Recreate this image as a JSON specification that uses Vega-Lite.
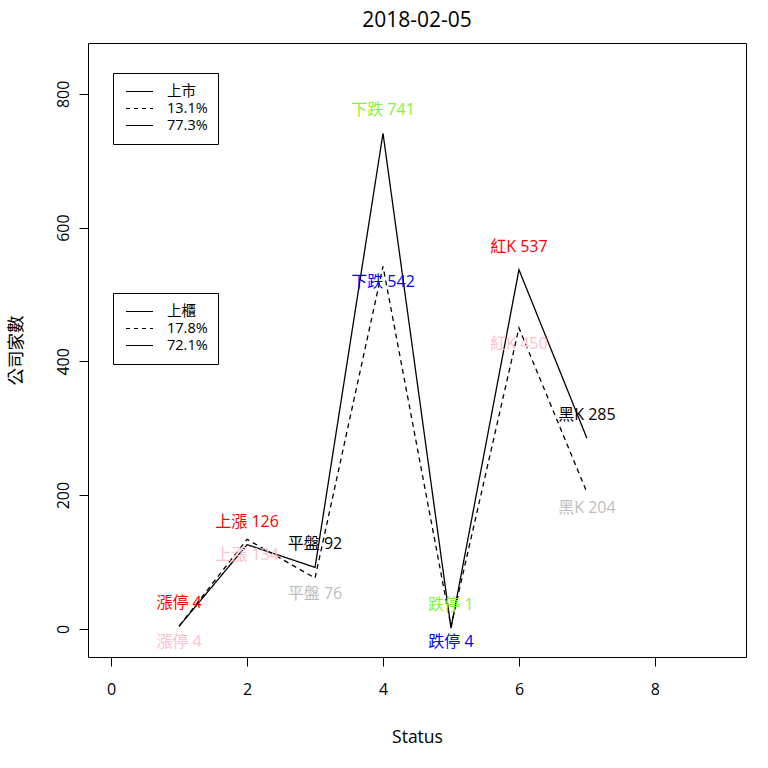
{
  "$schema": "https://vega.github.io/schema/vega-lite/v6.json",
  "width": 658,
  "height": 614,
  "autosize": {"type": "none"},
  "padding": {"left": 88, "top": 43, "right": 22, "bottom": 111},
  "background": "white",
  "title": {"text": "2018-02-05", "fontSize": 21, "fontWeight": "normal", "font": "Open Sans", "color": "black", "offset": 12},
  "config": {
    "view": {"stroke": "black", "strokeWidth": 1},
    "font": "Open Sans, Noto Sans CJK TC",
    "axis": {
      "grid": false,
      "domain": false,
      "tickSize": 9,
      "tickColor": "black",
      "tickWidth": 1,
      "labelFontSize": 16,
      "labelColor": "black",
      "labelFont": "Open Sans, Noto Sans CJK TC",
      "labelOverlap": false,
      "labelFlush": false,
      "titleFontSize": 17.5,
      "titleFontWeight": "normal",
      "titleColor": "black",
      "titleFont": "Open Sans, Noto Sans CJK TC"
    }
  },
  "datasets": {
    "counts": [
      {"market": "上市", "idx": 1, "status": "漲停", "count": 4},
      {"market": "上市", "idx": 2, "status": "上漲", "count": 126},
      {"market": "上市", "idx": 3, "status": "平盤", "count": 92},
      {"market": "上市", "idx": 4, "status": "下跌", "count": 741},
      {"market": "上市", "idx": 5, "status": "跌停", "count": 1},
      {"market": "上市", "idx": 6, "status": "紅K", "count": 537},
      {"market": "上市", "idx": 7, "status": "黑K", "count": 285},
      {"market": "上櫃", "idx": 1, "status": "漲停", "count": 4},
      {"market": "上櫃", "idx": 2, "status": "上漲", "count": 134},
      {"market": "上櫃", "idx": 3, "status": "平盤", "count": 76},
      {"market": "上櫃", "idx": 4, "status": "下跌", "count": 542},
      {"market": "上櫃", "idx": 5, "status": "跌停", "count": 4},
      {"market": "上櫃", "idx": 6, "status": "紅K", "count": 450},
      {"market": "上櫃", "idx": 7, "status": "黑K", "count": 204}
    ],
    "legend_twse": [{"entry": "上市"}, {"entry": "13.1%"}, {"entry": "77.3%"}],
    "legend_otc": [{"entry": "上櫃"}, {"entry": "17.8%"}, {"entry": "72.1%"}]
  },
  "layer": [
    {
      "data": {"name": "counts"},
      "mark": {"type": "line", "color": "black", "strokeWidth": 1.3},
      "encoding": {
        "x": {
          "field": "idx", "type": "quantitative",
          "scale": {"domain": [-0.34, 9.34], "nice": false, "zero": false},
          "axis": {"values": [0, 2, 4, 6, 8], "format": "d", "title": "Status", "labelPadding": 15, "titlePadding": 31}
        },
        "y": {
          "field": "count", "type": "quantitative",
          "scale": {"domain": [-42, 876], "nice": false, "zero": false},
          "axis": {"values": [0, 200, 400, 600, 800], "format": "d", "title": "公司家數", "labelAngle": -90, "labelAlign": "center", "labelBaseline": "bottom", "labelPadding": 8, "titlePadding": 30}
        },
        "strokeDash": {"field": "market", "type": "nominal", "scale": {"domain": ["上市", "上櫃"], "range": [[1, 0], [5, 4]]}, "legend": null},
        "order": {"field": "idx"}
      }
    },
    {
      "data": {"name": "counts"},
      "transform": [
        {"filter": "datum.market == '上市'"},
        {"calculate": "datum.status + ' ' + datum.count", "as": "label"}
      ],
      "mark": {"type": "text", "fontSize": 16, "dy": -23, "baseline": "middle", "align": "center"},
      "encoding": {
        "x": {"field": "idx", "type": "quantitative"},
        "y": {"field": "count", "type": "quantitative"},
        "text": {"field": "label"},
        "color": {
          "field": "status", "type": "nominal",
          "scale": {"domain": ["漲停", "上漲", "平盤", "下跌", "跌停", "紅K", "黑K"], "range": ["#FF0000", "#FF0000", "#000000", "#84F23A", "#84F23A", "#FF0000", "#000000"]},
          "legend": null
        }
      }
    },
    {
      "data": {"name": "counts"},
      "transform": [
        {"filter": "datum.market == '上櫃'"},
        {"calculate": "datum.status + ' ' + datum.count", "as": "label"}
      ],
      "mark": {"type": "text", "fontSize": 16, "dy": 16, "baseline": "middle", "align": "center"},
      "encoding": {
        "x": {"field": "idx", "type": "quantitative"},
        "y": {"field": "count", "type": "quantitative"},
        "text": {"field": "label"},
        "color": {
          "field": "status", "type": "nominal",
          "scale": {"domain": ["漲停", "上漲", "平盤", "下跌", "跌停", "紅K", "黑K"], "range": ["#FFC0CB", "#FFC0CB", "#BEBEBE", "#0000FF", "#0000FF", "#FFC0CB", "#BEBEBE"]},
          "legend": null
        }
      }
    },
    {
      "data": {"name": "legend_twse"},
      "mark": {"type": "rule", "color": "black", "strokeWidth": 1},
      "encoding": {
        "strokeDash": {
          "field": "entry", "type": "nominal",
          "scale": {"domain": ["上市", "13.1%", "77.3%"], "range": [[1, 0], [4, 4], [1, 0]]},
          "legend": {
            "orient": "none", "legendX": 25, "legendY": 30, "title": null,
            "symbolType": "stroke", "symbolSize": 729, "symbolStrokeWidth": 1.2, "symbolStrokeColor": "black", "symbolOffset": 2,
            "labelFontSize": 14.5, "labelFont": "Open Sans, Noto Sans CJK TC", "labelColor": "black", "labelOffset": 13,
            "clipHeight": 17, "rowPadding": 0, "padding": 10, "strokeColor": "black", "fillColor": "white", "cornerRadius": 0
          }
        }
      }
    },
    {
      "data": {"name": "legend_otc"},
      "mark": {"type": "rule", "color": "black", "strokeWidth": 1},
      "encoding": {
        "strokeDash": {
          "field": "entry", "type": "nominal",
          "scale": {"domain": ["上櫃", "17.8%", "72.1%"], "range": [[1, 0], [4, 4], [1, 0]]},
          "legend": {
            "orient": "none", "legendX": 25, "legendY": 250, "title": null,
            "symbolType": "stroke", "symbolSize": 729, "symbolStrokeWidth": 1.2, "symbolStrokeColor": "black", "symbolOffset": 2,
            "labelFontSize": 14.5, "labelFont": "Open Sans, Noto Sans CJK TC", "labelColor": "black", "labelOffset": 13,
            "clipHeight": 17, "rowPadding": 0, "padding": 10, "strokeColor": "black", "fillColor": "white", "cornerRadius": 0
          }
        }
      }
    }
  ],
  "resolve": {"scale": {"color": "independent", "strokeDash": "independent"}, "legend": {"strokeDash": "independent"}}
}
